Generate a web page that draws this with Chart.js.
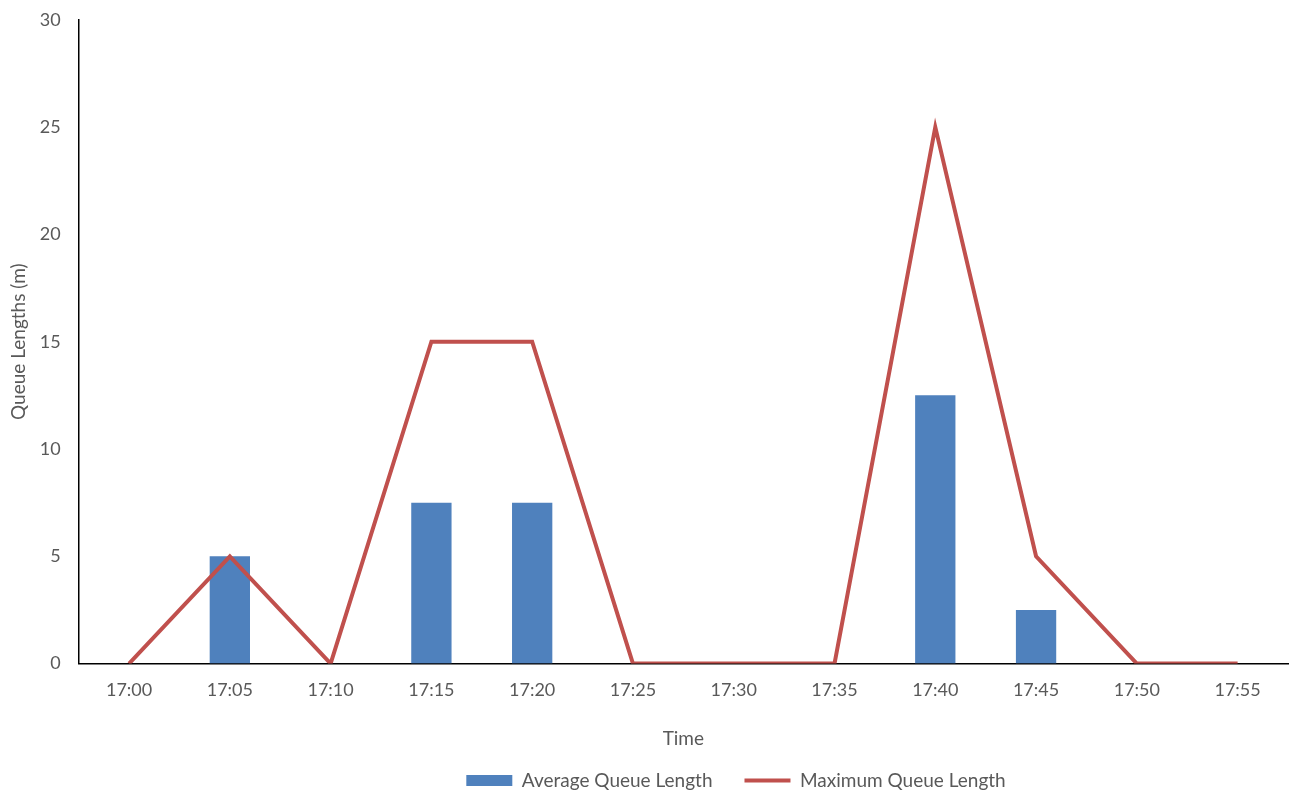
<!DOCTYPE html>
<html>
<head>
<meta charset="utf-8">
<script src="https://cdn.jsdelivr.net/npm/chart.js@4"></script>
<style>
  html, body { margin: 0; padding: 0; background: #fff; }
  #wrap { width: 1294px; height: 792px; }
</style>
</head>
<body>
<div id="wrap"><canvas id="myChart" width="1294" height="792"></canvas></div>
<script>
const times = ['17:00', '17:05', '17:10', '17:15', '17:20', '17:25', '17:30', '17:35', '17:40', '17:45', '17:50', '17:55'];
const avgQueue = [0, 5, 0, 7.5, 7.5, 0, 0, 0, 12.5, 2.5, 0, 0];
const maxQueue = [0, 5, 0, 15, 15, 0, 0, 0, 25, 5, 0, 0];

const fam = 'Lato, "Open Sans", sans-serif';
const grey = '#595959';

// the legend in the original sits a bit right of centre
const shiftLegend = {
    id: 'shiftLegend',
    afterLayout(chart) {
        chart.legend.left += 92;
        chart.legend.right += 92;
    }
};

function drawChart() {
    var ctx = document.getElementById('myChart').getContext('2d');
    new Chart(ctx, {
        data: {
            labels: times,
            datasets: [{
                type: 'line',
                label: 'Maximum Queue Length',
                data: maxQueue,
                borderColor: '#C0504D',
                backgroundColor: '#C0504D',
                borderWidth: 4,
                pointRadius: 0,
                tension: 0,
                pointStyle: 'line',
                order: 0
            }, {
                type: 'bar',
                label: 'Average Queue Length',
                data: avgQueue,
                backgroundColor: '#4F81BD',
                borderWidth: 0,
                categoryPercentage: 1,
                barPercentage: 0.4,
                pointStyle: 'rect',
                order: 1
            }]
        },
        options: {
            responsive: false,
            animation: false,
            layout: { padding: { left: 0, right: 6, top: 0, bottom: -8 } },
            plugins: {
                tooltip: { enabled: false },
                legend: {
                    position: 'bottom',
                    reverse: true,
                    labels: {
                        usePointStyle: true,
                        pointStyleWidth: 46,
                        boxHeight: 11,
                        padding: 32,
                        color: grey,
                        font: { family: fam, size: 19 }
                    }
                }
            },
            scales: {
                x: {
                    offset: true,
                    grid: { display: false, drawTicks: false },
                    border: { color: '#000', width: 1.5 },
                    ticks: { color: grey, font: { family: fam, size: 18 }, padding: 16, maxRotation: 0 },
                    title: { display: true, text: 'Time', color: grey, font: { family: fam, size: 19 }, padding: { top: 10, bottom: -11 } }
                },
                y: {
                    min: 0,
                    max: 30,
                    grid: { display: false, drawTicks: false },
                    border: { color: '#000', width: 1.5 },
                    ticks: { stepSize: 5, color: grey, font: { family: fam, size: 18, lineHeight: 0.2 }, padding: 18 },
                    title: { display: true, text: 'Queue Lengths (m)', color: grey, font: { family: fam, size: 19 }, padding: { top: 7, bottom: -8 } }
                }
            }
        },
        plugins: [shiftLegend]
    });
}

drawChart();
</script>
</body>
</html>
